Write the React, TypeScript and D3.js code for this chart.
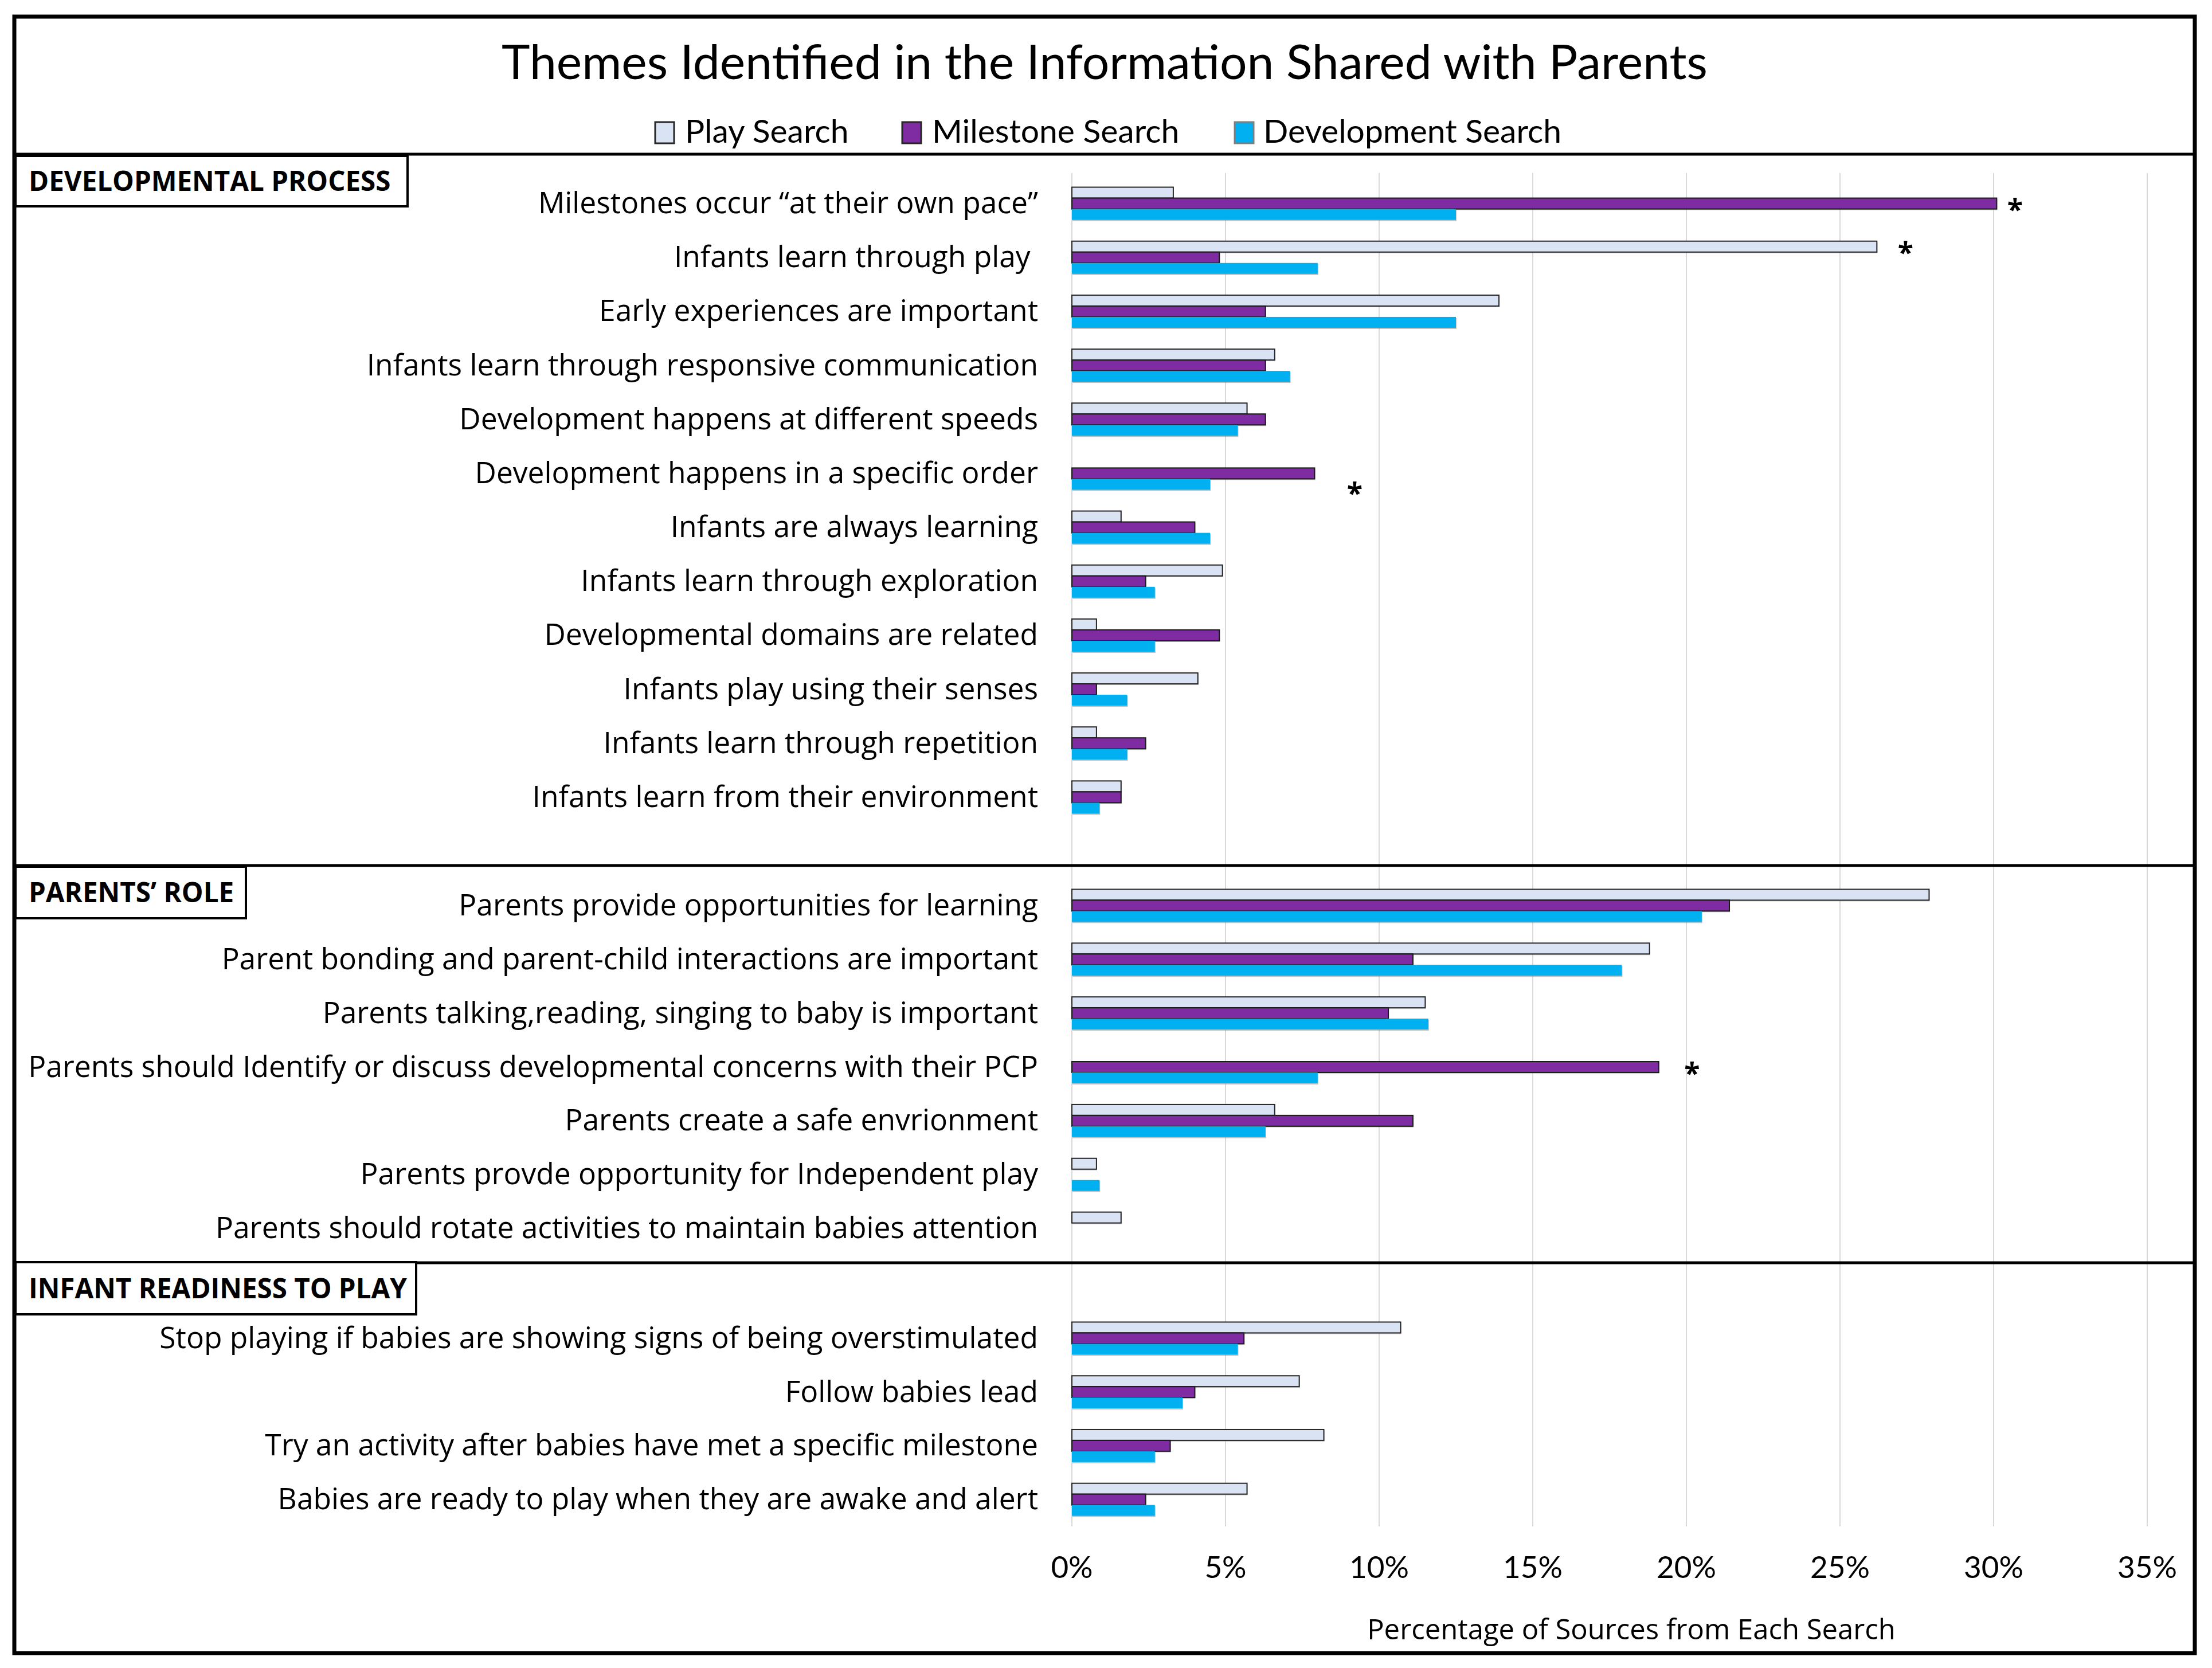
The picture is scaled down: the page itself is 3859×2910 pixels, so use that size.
import React from 'react';
import * as d3 from 'd3';

// ---------- DATA ----------
const seriesNames = ['Play Search', 'Milestone Search', 'Development Search'];

const sectionTitles = ['DEVELOPMENTAL PROCESS', 'PARENTS\u2019 ROLE', 'INFANT READINESS TO PLAY'];

const devCategories = [
  'Milestones occur \u201Cat their own pace\u201D',
  'Infants learn through play ',
  'Early experiences are important',
  'Infants learn through responsive communication',
  'Development happens at different speeds',
  'Development happens in a specific order',
  'Infants are always learning',
  'Infants learn through exploration',
  'Developmental domains are related',
  'Infants play using their senses',
  'Infants learn through repetition',
  'Infants learn from their environment',
];
const devPlay = [3.3, 26.2, 13.9, 6.6, 5.7, 0, 1.6, 4.9, 0.8, 4.1, 0.8, 1.6];
const devMilestone = [30.1, 4.8, 6.3, 6.3, 6.3, 7.9, 4.0, 2.4, 4.8, 0.8, 2.4, 1.6];
const devDevelopment = [12.5, 8.0, 12.5, 7.1, 5.4, 4.5, 4.5, 2.7, 2.7, 1.8, 1.8, 0.9];

const parentCategories = [
  'Parents provide opportunities for learning',
  'Parent bonding and parent-child interactions are important',
  'Parents talking,reading, singing to baby is important',
  'Parents should Identify or discuss developmental concerns with their PCP',
  'Parents create a safe envrionment',
  'Parents provde opportunity for Independent play',
  'Parents should rotate activities to maintain babies attention',
];
const parentPlay = [27.9, 18.8, 11.5, 0, 6.6, 0.8, 1.6];
const parentMilestone = [21.4, 11.1, 10.3, 19.1, 11.1, 0, 0];
const parentDevelopment = [20.5, 17.9, 11.6, 8.0, 6.3, 0.9, 0];

const infantCategories = [
  'Stop playing if babies are showing signs of being overstimulated',
  'Follow babies lead',
  'Try an activity after babies have met a specific milestone',
  'Babies are ready to play when they are awake and alert',
];
const infantPlay = [10.7, 7.4, 8.2, 5.7];
const infantMilestone = [5.6, 4.0, 3.2, 2.4];
const infantDevelopment = [5.4, 3.6, 2.7, 2.7];

const xTicks = [0, 5, 10, 15, 20, 25, 30, 35];

// significant differences marked with an asterisk
const significant = [
  { category: 'Milestones occur \u201Cat their own pace\u201D', series: 'Milestone Search' },
  { category: 'Infants learn through play ', series: 'Play Search' },
  { category: 'Development happens in a specific order', series: 'Milestone Search' },
  { category: 'Parents should Identify or discuss developmental concerns with their PCP', series: 'Milestone Search' },
];

// ---------- STYLE / LAYOUT ----------
const W = 3859;
const H = 2910;
const FONT = 'Lato, "Noto Sans", sans-serif';
const FONT2 = '"Open Sans", "Noto Sans", sans-serif';
const fills: Record<string, string> = {
  'Play Search': '#dae3f3',
  'Milestone Search': '#7f2ba1',
  'Development Search': '#00b0f0',
};
const strokes: Record<string, string> = {
  'Play Search': '#262626',
  'Milestone Search': '#1a1a1a',
  'Development Search': 'none',
};
// per-asterisk nudges (layout only) [dx, dy]
const starNudge: [number, number][] = [
  [32, 0],
  [50, 0],
  [70, 24],
  [58, 0],
];

const sections = [
  { title: sectionTitles[0], cats: devCategories, vals: [devPlay, devMilestone, devDevelopment], range: [308, 1438], box: { y: 272, w: 684, h: 88 } },
  { title: sectionTitles[1], cats: parentCategories, vals: [parentPlay, parentMilestone, parentDevelopment], range: [1533, 2190], box: { y: 1512, w: 402, h: 90 } },
  { title: sectionTitles[2], cats: infantCategories, vals: [infantPlay, infantMilestone, infantDevelopment], range: [2288, 2663], box: { y: 2202, w: 699, h: 91 } },
];

export default function App() {
  const x = d3.scaleLinear().domain([0, 35]).range([1870, 3746]);
  const labelX = 1811;

  const bars: React.ReactNode[] = [];
  const labels: React.ReactNode[] = [];
  const stars: React.ReactNode[] = [];

  sections.forEach((sec, si) => {
    const outer = d3
      .scaleBand<string>()
      .domain(sec.cats)
      .range(sec.range as [number, number])
      .paddingInner(0.394)
      .paddingOuter(0.197);
    const inner = d3.scaleBand<string>().domain(seriesNames).range([0, outer.bandwidth()]);
    sec.cats.forEach((cat, ci) => {
      const y0 = outer(cat)!;
      const cy = y0 + outer.bandwidth() / 2;
      labels.push(
        <text
          key={`l-${si}-${ci}`}
          x={labelX}
          y={cy + 17}
          textAnchor="end"
          fontSize={51.5}
          fontFamily={FONT2}
          fill="#000"
          style={{ whiteSpace: 'pre' }}
        >
          {cat}
        </text>
      );
      seriesNames.forEach((s, k) => {
        const v = sec.vals[k][ci];
        if (!v) return;
        const by = y0 + inner(s)!;
        const bw = x(v) - x(0);
        bars.push(
          <g key={`b-${si}-${ci}-${k}`}>
            <rect x={x(0) + 1} y={by + 2} width={bw} height={inner.bandwidth()} fill="#8c8c8c" opacity={0.55} />
            <rect
              x={x(0)}
              y={by}
              width={bw}
              height={inner.bandwidth()}
              fill={fills[s]}
              stroke={strokes[s]}
              strokeWidth={2}
            />
          </g>
        );
        const sigIdx = significant.findIndex((d) => d.category === cat && d.series === s);
        if (sigIdx >= 0) {
          const [dx, dy] = starNudge[sigIdx];
          stars.push(
            <text
              key={`s-${si}-${ci}`}
              x={x(v) + dx}
              y={by + inner.bandwidth() / 2 + 28 + dy}
              textAnchor="middle"
              fontSize={50}
              fontWeight={700}
              fontFamily={FONT2}
              fill="#000"
            >
              *
            </text>
          );
        }
      });
    });
  });

  const legendItems = [
    { name: seriesNames[0], sx: 1143, tx: 1195 },
    { name: seriesNames[1], sx: 1574, tx: 1626 },
    { name: seriesNames[2], sx: 2154, tx: 2204 },
  ];

  return (
    <svg
      width={W}
      height={H}
      viewBox={`0 0 ${W} ${H}`}
      style={{ position: 'absolute', left: 0, top: 0, background: '#fff' }}
    >
      <rect x={0} y={0} width={W} height={H} fill="#fff" />

      {/* gridlines */}
      {xTicks.map((t) => (
        <line key={`g-${t}`} x1={x(t)} x2={x(t)} y1={302} y2={2663} stroke="#d9d9d9" strokeWidth={2} />
      ))}

      {/* tick labels */}
      {xTicks.map((t) => (
        <text key={`t-${t}`} x={x(t)} y={2753} textAnchor="middle" fontSize={53} fontFamily={FONT} fill="#000">
          {`${t}%`}
        </text>
      ))}

      {bars}
      {labels}
      {stars}

      {/* axis title */}
      <text x={2846} y={2860} textAnchor="middle" fontSize={49} fontFamily={FONT2} fill="#000">
        Percentage of Sources from Each Search
      </text>

      {/* title */}
      <text x={1927} y={138} textAnchor="middle" fontSize={84} fontFamily={FONT} fill="#000">
        Themes Identified in the Information Shared with Parents
      </text>

      {/* legend */}
      {legendItems.map((it) => (
        <g key={it.name}>
          <rect
            x={it.sx}
            y={213}
            width={33}
            height={37}
            fill={fills[it.name]}
            stroke={it.name === 'Development Search' ? '#7f7f7f' : '#262626'}
            strokeWidth={3}
          />
          <text x={it.tx} y={249} fontSize={57} fontFamily={FONT} fill="#000">
            {it.name}
          </text>
        </g>
      ))}

      {/* dividers */}
      <line x1={25} x2={3829} y1={269} y2={269} stroke="#000" strokeWidth={5} />
      <line x1={25} x2={3829} y1={1510} y2={1510} stroke="#000" strokeWidth={5} />
      <line x1={25} x2={3829} y1={2203} y2={2203} stroke="#000" strokeWidth={5} />

      {/* section boxes */}
      {sections.map((sec) => (
        <g key={sec.title}>
          <rect x={27} y={sec.box.y} width={sec.box.w} height={sec.box.h} fill="#fff" stroke="#000" strokeWidth={4} />
          <text
            x={50}
            y={sec.box.y + sec.box.h / 2 + 17}
            fontSize={47.5}
            fontWeight={700}
            fontFamily={FONT2}
            fill="#000"
          >
            {sec.title}
          </text>
        </g>
      ))}

      {/* outer frame */}
      <rect x={25} y={29} width={3804} height={2855} fill="none" stroke="#000" strokeWidth={7} />
    </svg>
  );
}
